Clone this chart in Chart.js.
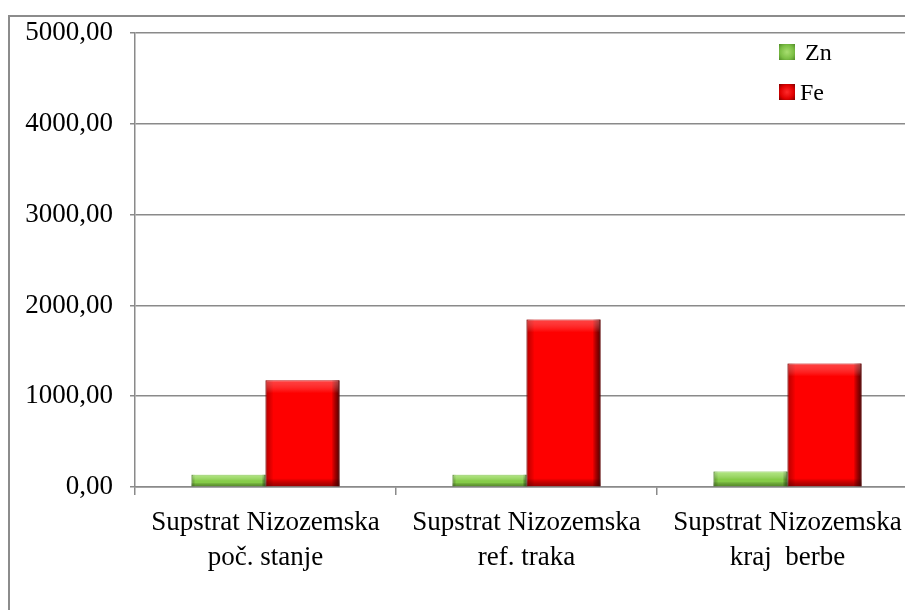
<!DOCTYPE html>
<html>
<head>
<meta charset="utf-8">
<script src="https://cdn.jsdelivr.net/npm/chart.js@4.4.0/dist/chart.umd.min.js"></script>
<style>
  html, body { margin: 0; padding: 0; background: #fff; overflow: hidden; width: 905px; height: 610px; }
  #wrap { position: absolute; left: 0; top: 0; width: 930px; height: 610px; }
  #frame { position: absolute; left: 8px; top: 15px; width: 1000px; height: 700px; border: 2px solid #8c8c8c; pointer-events: none; }
  .leg { position: absolute; font-family: "Liberation Serif", "Times New Roman", serif; font-size: 24px; color: #000; line-height: 24px; }
  .sw { position: absolute; width: 16px; height: 16px; }
</style>
</head>
<body>
<div id="frame"></div>
<div id="wrap"><canvas id="chart" width="930" height="610"></canvas></div>
<div class="sw" style="left:779px; top:44px; background: radial-gradient(circle, #a8de70 0%, #7cbf45 60%, #4f8a27 100%);"></div>
<div class="leg" style="left:805px; top:40px;">Zn</div>
<div class="sw" style="left:779px; top:84px; background: radial-gradient(circle, #ff2a2a 0%, #e00000 60%, #7a0000 100%);"></div>
<div class="leg" style="left:800px; top:80px;">Fe</div>
<script>
const categories = [
  ['Supstrat Nizozemska', 'poč. stanje'],
  ['Supstrat Nizozemska', 'ref. traka'],
  ['Supstrat Nizozemska', 'kraj  berbe']
];
const znValues = [135, 135, 170];
const feValues = [1175, 1845, 1360];
const yTicks = [0, 1000, 2000, 3000, 4000, 5000];

const serif = '"Liberation Serif", "Times New Roman", serif';

// bevel-like shading on top of each bar
const bevel = {
  id: 'bevel',
  afterDatasetsDraw(chart) {
    const ctx = chart.ctx;
    const shades = [
      { light: 'rgba(210,255,170,0.55)', dark: 'rgba(40,80,10,0.75)' },
      { light: 'rgba(255,140,140,0.45)', dark: 'rgba(60,0,0,0.85)' }
    ];
    chart.data.datasets.forEach((ds, i) => {
      const meta = chart.getDatasetMeta(i);
      meta.data.forEach(bar => {
        const p = bar.getProps(['x', 'y', 'base', 'width'], true);
        const left = p.x - p.width / 2, top = p.y, w = p.width, h = p.base - p.y;
        const e = Math.min(8, h / 3, w / 6);
        ctx.save();
        // right dark edge
        let g = ctx.createLinearGradient(left + w - e, 0, left + w, 0);
        g.addColorStop(0, 'rgba(0,0,0,0)');
        g.addColorStop(1, shades[i].dark);
        ctx.fillStyle = g;
        ctx.fillRect(left + w - e, top, e, h);
        // left edge
        g = ctx.createLinearGradient(left, 0, left + e, 0);
        g.addColorStop(0, shades[i].dark.replace(/[\d.]+\)$/, '0.35)'));
        g.addColorStop(1, 'rgba(0,0,0,0)');
        ctx.fillStyle = g;
        ctx.fillRect(left, top, e, h);
        // top highlight
        g = ctx.createLinearGradient(0, top, 0, top + e * 1.6);
        g.addColorStop(0, shades[i].light);
        g.addColorStop(1, 'rgba(255,255,255,0)');
        ctx.fillStyle = g;
        ctx.fillRect(left + 1, top, w - 2, e * 1.6);
        // bottom dark
        g = ctx.createLinearGradient(0, top + h - e, 0, top + h);
        g.addColorStop(0, 'rgba(0,0,0,0)');
        g.addColorStop(1, shades[i].dark.replace(/[\d.]+\)$/, '0.5)'));
        ctx.fillStyle = g;
        ctx.fillRect(left, top + h - e, w, e);
        ctx.restore();
      });
    });
  }
};

new Chart(document.getElementById('chart').getContext('2d'), {
  type: 'bar',
  data: {
    labels: categories,
    datasets: [
      {
        label: 'Zn',
        data: znValues,
        backgroundColor: '#86cc48',
        borderColor: '#5e9a30',
        borderWidth: 1,
        categoryPercentage: 0.567,
        barPercentage: 1.0
      },
      {
        label: 'Fe',
        data: feValues,
        backgroundColor: '#fe0000',
        borderColor: '#b00000',
        borderWidth: 1,
        categoryPercentage: 0.567,
        barPercentage: 1.0
      }
    ]
  },
  options: {
    responsive: false,
    animation: false,
    layout: { padding: { top: 33, right: 12, bottom: 0, left: 0 } },
    scales: {
      x: {
        grid: { drawOnChartArea: false, offset: true, tickLength: 8, color: '#8a8a8a', lineWidth: 1.5 },
        border: { color: '#8a8a8a', width: 1.5 },
        ticks: {
          color: '#000',
          padding: 11,
          maxRotation: 0,
          autoSkip: false,
          font: { family: serif, size: 27, lineHeight: 1.27 }
        },
        afterFit(scale) { scale.height = 123; }
      },
      y: {
        min: 0,
        max: 5000,
        afterBuildTicks(scale) { scale.ticks = yTicks.map(v => ({ value: v })); },
        grid: { color: '#8a8a8a', lineWidth: 1.5, tickLength: 5 },
        border: { color: '#8a8a8a', width: 1.5 },
        ticks: {
          color: '#000',
          padding: 17,
          font: { family: serif, size: 27 },
          callback: v => v.toFixed(2).replace('.', ',')
        },
        afterFit(scale) { scale.width = 135; }
      }
    },
    plugins: {
      legend: { display: false },
      tooltip: { enabled: false }
    }
  },
  plugins: [bevel]
});
</script>
</body>
</html>
